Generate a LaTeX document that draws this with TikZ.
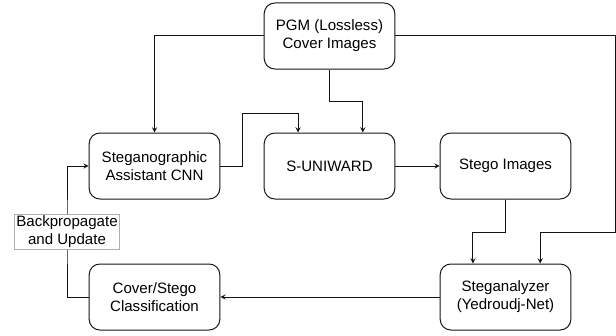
\documentclass[tikz,border=0pt]{standalone}
\usepackage{fontspec}
\setmainfont{Liberation Sans}
\usepackage{tikz}
\usetikzlibrary{arrows,shapes,positioning}
\usepackage{xcolor}
\definecolor{sgline}{RGB}{20,20,20}
\definecolor{sglabel}{RGB}{175,175,175}
\tikzstyle{block} = [draw=sgline, line width=0.75pt, rounded corners=8pt, minimum width=98pt, minimum height=49.5pt, inner sep=0pt, align=center, font=\fontsize{11.3}{13.5}\selectfont]
\tikzstyle{arrow} = [line width=0.75pt,->,>=stealth,color=sgline]

\begin{document}
\begin{tikzpicture}[x=0.75pt, y=-0.75pt]
\useasboundingbox[fill=white] (0,0) rectangle (616,335);
% Boxes
\node[block] (pgm) at (329.5,36) {PGM (Lossless)\\Cover Images};
\node[block] (sacnn) at (154.5,166) {Steganographic\\Assistant CNN};
\node[block] (suni) at (329.5,166) {S-UNIWARD};
\node[block] (stego) at (505.5,166) {Stego Images};
\node[block] (anlz) at (505.5,297) {Steganalyzer\\(Yedroudj-Net)};
\node[block] (cls) at (154.5,297) {Cover/Stego\\Classification};
% Bends
\coordinate (rtop) at (615,36);
\coordinate (rbot) at (615,232);
\coordinate (pbend) at (329.5,101);
\coordinate (sbend) at (242,113);
\coordinate (gbend) at (505.5,232);
\coordinate (bpc) at (67,232);
% Arrows
\draw[arrow] (pgm.west) -| (sacnn.north);
\draw[arrow] (pgm.east) -- (rtop) -- (rbot) -| ([xshift=26pt]anlz.north);
\draw[arrow] (pgm.south) -- (pbend) -| ([xshift=25pt]suni.north);
\draw[arrow] (sacnn.east) -| (sbend) -| ([xshift=-23.6pt]suni.north);
\draw[arrow] (suni) -- (stego);
\draw[arrow] (stego.south) -- (gbend) -| ([xshift=-24.4pt]anlz.north);
\draw[arrow] (anlz) -- (cls);
\draw[arrow] (cls.west) -| (bpc) |- (sacnn.west);
\node[draw=sglabel, fill=white, line width=0.5pt, inner xsep=1.5pt, inner ysep=1pt, align=center, font=\fontsize{11.3}{13.5}\selectfont] (bp) at (bpc) {Backpropagate\\and Update};
\end{tikzpicture}
\end{document}
